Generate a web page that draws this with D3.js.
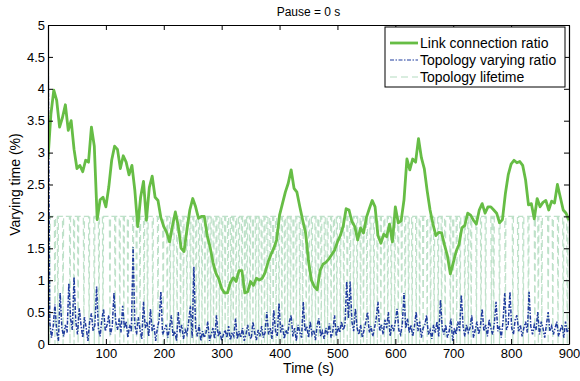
<!DOCTYPE html>
<html>
<head>
<meta charset="UTF-8">
<title>Pause = 0 s</title>
<style>
  * { margin: 0; padding: 0; }
  body { background: #fff; }
  text { font-family: "Liberation Sans", Arial, sans-serif; }
</style>
<script src="https://cdn.jsdelivr.net/npm/d3@7"></script>
</head>
<body>
<svg id="chart" width="580" height="381"></svg>
<script>
// link connection ratio, sampled every 5 s from 0 to 900
const linkStep = 5;
const linkRatio = [
  2.9, 3.6, 3.98, 3.82, 3.4, 3.55, 3.75, 3.35, 3.5, 3.05,
  2.75, 2.8, 2.7, 2.88, 2.85, 3.4, 3.1, 1.95, 2.26, 2.3,
  2.15, 2.46, 2.88, 3.1, 3.05, 2.75, 2.95, 2.85, 2.65, 2.8,
  2.41, 1.84, 2.3, 2.55, 1.94, 2.45, 2.63, 2.3, 2.25, 1.98,
  1.84, 1.75, 1.6, 1.85, 2.07, 1.85, 1.5, 1.45, 1.79, 2.1,
  2.28, 2.15, 1.97, 2.0, 2.0, 1.7, 1.52, 1.28, 1.11, 1.02,
  0.87, 0.8, 0.8, 0.96, 1.04, 0.98, 1.15, 1.15, 0.8, 0.82,
  0.98, 0.92, 1.03, 1.0, 1.03, 1.12, 1.28, 1.4, 1.5, 1.63,
  2.02, 2.2, 2.38, 2.52, 2.73, 2.44, 2.38, 2.15, 1.94, 1.74,
  1.3, 1.0, 0.9, 0.85, 1.15, 1.25, 1.28, 1.33, 1.4, 1.47,
  1.6, 1.7, 1.85, 2.12, 2.1, 1.92, 1.84, 1.63, 1.82, 1.74,
  1.98, 2.12, 2.25, 2.15, 1.7, 1.58, 1.72, 1.68, 1.88, 1.6,
  2.15, 1.9, 1.93, 2.26, 2.9, 2.73, 2.9, 2.85, 3.22, 2.92,
  2.75, 2.4, 2.1, 1.88, 1.7, 1.75, 1.74, 1.55, 1.38, 1.1,
  1.27, 1.45, 1.56, 1.82, 1.86, 2.05, 2.02, 1.94, 1.88, 2.1,
  2.2, 2.05, 2.15, 2.15, 2.1, 2.05, 1.9, 1.95, 2.35, 2.65,
  2.82, 2.88, 2.84, 2.86, 2.8, 2.57, 2.18, 2.2, 1.96, 2.28,
  2.15, 2.22, 2.25, 2.1, 2.24, 2.21, 2.5, 2.3, 2.1, 2.05,
  1.94
];

// topology varying ratio, sampled every 3 s from 0 to 900
const varyStep = 3;
const varyRatio = [
  5.0, 0.35, 0.10, 0.28, 0.62, 0.20, 0.05, 0.80, 0.25, 0.12,
  0.30, 0.18, 0.95, 0.40, 0.22, 1.05, 0.35, 0.15, 0.56, 0.30,
  0.10, 0.42, 0.25, 0.05, 0.35, 0.48, 0.20, 0.30, 0.90, 0.25,
  0.12, 0.38, 0.55, 0.20, 0.30, 0.45, 0.15, 0.28, 0.80, 0.35,
  0.22, 0.40, 0.18, 0.60, 0.25, 0.35, 0.10, 0.30, 0.20, 1.52,
  0.30, 0.15, 0.42, 0.22, 0.08, 0.66, 0.25, 0.35, 0.12, 0.55,
  0.20, 0.30, 0.05, 0.25, 0.38, 0.82, 0.15, 0.22, 0.30, 0.10,
  0.25, 0.45, 0.12, 0.20, 0.05, 0.50, 0.18, 0.30, 0.08, 0.22,
  0.15, 0.35, 0.60, 0.10, 1.21, 0.25, 0.12, 0.30, 0.05, 0.20,
  0.10, 0.18, 0.35, 0.05, 0.15, 0.25, 0.08, 0.45, 0.12, 0.20,
  0.05, 0.15, 0.22, 0.10, 0.28, 0.06, 0.18, 0.12, 0.40, 0.08,
  0.20, 0.10, 0.25, 0.05, 0.15, 0.30, 0.12, 0.08, 0.35, 0.18,
  0.06, 0.22, 0.12, 0.28, 0.10, 0.18, 0.50, 0.15, 0.25, 0.08,
  0.53, 0.20, 0.12, 0.64, 0.18, 0.30, 0.08, 0.22, 0.15, 0.35,
  0.45, 0.12, 0.25, 0.05, 0.30, 0.18, 0.10, 0.66, 0.20, 0.28,
  0.10, 0.35, 0.15, 0.22, 0.06, 0.30, 0.40, 0.12, 0.20, 0.08,
  0.25, 0.15, 0.32, 0.10, 0.20, 0.45, 0.12, 0.28, 0.18, 0.35,
  0.22, 0.30, 0.98, 0.40, 0.98, 0.35, 0.20, 0.55, 0.25, 0.15,
  0.30, 0.10, 0.22, 0.35, 0.50, 0.18, 0.28, 0.12, 0.25, 0.40,
  0.66, 0.20, 0.30, 0.15, 0.38, 0.25, 0.50, 0.12, 0.30, 0.20,
  0.35, 0.55, 0.22, 0.15, 0.30, 0.80, 0.25, 0.40, 0.18, 0.30,
  0.12, 0.28, 0.50, 0.20, 0.35, 0.10, 0.25, 0.30, 0.45, 0.15,
  0.22, 0.08, 0.30, 0.18, 0.35, 0.12, 0.69, 0.25, 0.15, 0.30,
  0.10, 0.20, 0.40, 0.05, 0.25, 0.15, 0.35, 0.20, 0.77, 0.28,
  0.12, 0.30, 0.18, 0.25, 0.45, 0.10, 0.22, 0.35, 0.15, 0.28,
  0.55, 0.20, 0.30, 0.12, 0.38, 0.25, 0.15, 0.32, 0.66, 0.20,
  0.28, 0.10, 0.35, 0.80, 0.22, 0.30, 0.82, 0.25, 0.15, 0.38,
  0.45, 0.20, 0.30, 0.12, 0.25, 0.35, 0.18, 0.82, 0.28, 0.15,
  0.30, 0.22, 0.50, 0.15, 0.35, 0.25, 0.10, 0.30, 0.50, 0.20,
  0.28, 0.15, 0.25, 0.35, 0.12, 0.22, 0.30, 0.10, 0.35, 0.18,
  0.25
];

// topology lifetime: level 2, dropping to 0 at these times (s)
const lifeLevel = 2;
const lifeDrops = [
  3, 12, 17, 26, 38, 45, 52, 62, 71, 80, 88, 95, 107, 116, 124, 131, 138, 147,
  153, 159, 166, 172, 181, 190, 199, 206, 211, 217, 223, 229, 234, 240, 246, 251,
  256, 261, 266, 271, 276, 281, 286, 291, 296, 301, 306, 311, 316, 320, 325, 330,
  335, 340, 344, 349, 354, 359, 364, 369, 374, 379, 384, 389, 394, 399, 404, 409,
  414, 419, 424, 429, 435, 440, 446, 451, 456, 462, 467, 472, 478, 483, 489, 494,
  499, 505, 511, 517, 522, 528, 534, 540, 545, 551, 557, 563, 569, 575, 581, 587,
  593, 599, 605, 611, 617, 623, 629, 636, 642, 648, 655, 661, 667, 674, 680, 686,
  695, 700, 706, 712, 720, 726, 731, 740, 748, 756, 766, 770, 780, 790, 803, 812,
  821, 830, 841, 847, 853, 864, 872, 881, 890, 897
];

const xTicks = [100, 200, 300, 400, 500, 600, 700, 800, 900];
const yTicks = [0, 0.5, 1, 1.5, 2, 2.5, 3, 3.5, 4, 4.5, 5];
const seriesNames = ["Link connection ratio", "Topology varying ratio", "Topology lifetime"];

const svg = d3.select("#chart");
const m = { left: 48, right: 569, top: 25, bottom: 344 };

const x = d3.scaleLinear().domain([0, 900]).range([m.left, m.right]);
const y = d3.scaleLinear().domain([0, 5]).range([m.bottom, m.top]);

svg.append("defs").append("clipPath").attr("id", "plotClip")
  .append("rect")
  .attr("x", m.left).attr("y", m.top)
  .attr("width", m.right - m.left).attr("height", m.bottom - m.top);

const plot = svg.append("g").attr("clip-path", "url(#plotClip)");

// lifetime series built from the drop times
const lifePts = [[0, lifeLevel]];
lifeDrops.forEach(d => {
  lifePts.push([d - 1, lifeLevel], [d, 0], [d + 1, lifeLevel]);
});
lifePts.push([900, lifeLevel]);

const line = d3.line().x(d => x(d[0])).y(d => y(d[1]));

plot.append("path")
  .datum(lifePts)
  .attr("d", line)
  .attr("fill", "none")
  .attr("stroke", "#b3dcbf")
  .attr("stroke-opacity", 0.85)
  .attr("stroke-width", 1.2)
  .attr("stroke-dasharray", "7,4");

plot.append("path")
  .datum(varyRatio.map((v, i) => [i * varyStep, v]))
  .attr("d", line)
  .attr("fill", "none")
  .attr("stroke", "#1f3c9e")
  .attr("stroke-width", 1.5)
  .attr("stroke-dasharray", "4,1.5,1.5,1.5");

plot.append("path")
  .datum(linkRatio.map((v, i) => [i * linkStep, v]))
  .attr("d", line)
  .attr("fill", "none")
  .attr("stroke", "#66bd45")
  .attr("stroke-width", 2.8)
  .attr("stroke-linejoin", "round");

// axes, MATLAB style: ticks inside on all four sides
const fmt = d3.format("");
const axB = svg.append("g").attr("transform", `translate(0,${m.bottom})`)
  .call(d3.axisBottom(x).tickValues(xTicks).tickFormat(fmt).tickSizeInner(-5).tickSizeOuter(0).tickPadding(5));
const axT = svg.append("g").attr("transform", `translate(0,${m.top})`)
  .call(d3.axisTop(x).tickValues(xTicks).tickFormat("").tickSizeInner(-5).tickSizeOuter(0));
const axL = svg.append("g").attr("transform", `translate(${m.left},0)`)
  .call(d3.axisLeft(y).tickValues(yTicks).tickFormat(fmt).tickSizeInner(-5).tickSizeOuter(0).tickPadding(3));
const axR = svg.append("g").attr("transform", `translate(${m.right},0)`)
  .call(d3.axisRight(y).tickValues(yTicks).tickFormat("").tickSizeInner(-5).tickSizeOuter(0));

[axB, axT, axL, axR].forEach(a => {
  a.selectAll("text").attr("font-size", 13).attr("fill", "#000")
    .attr("font-family", "Liberation Sans, Arial, sans-serif");
  a.select(".domain").attr("stroke", "#000").attr("stroke-width", 1.2);
  a.selectAll(".tick line").attr("stroke", "#000");
});

// labels
svg.append("text")
  .attr("x", (m.left + m.right) / 2).attr("y", 16)
  .attr("text-anchor", "middle").attr("font-size", 12)
  .text("Pause = 0 s");

svg.append("text")
  .attr("x", (m.left + m.right) / 2).attr("y", 373)
  .attr("text-anchor", "middle").attr("font-size", 14)
  .text("Time (s)");

svg.append("text")
  .attr("transform", `translate(20,${(m.top + m.bottom) / 2}) rotate(-90)`)
  .attr("text-anchor", "middle").attr("font-size", 14)
  .text("Varying time (%)");

// legend
const lg = svg.append("g").attr("transform", "translate(385,27)");
lg.append("rect")
  .attr("width", 180).attr("height", 60)
  .attr("fill", "#fff").attr("stroke", "#000").attr("stroke-width", 1);

const legendStyles = [
  { stroke: "#66bd45", width: 2.8, dash: null },
  { stroke: "#1f3c9e", width: 1.1, dash: "4,1.5,1.5,1.5" },
  { stroke: "#b3dcbf", width: 1.2, dash: "7,4" }
];

seriesNames.forEach((name, i) => {
  const row = lg.append("g").attr("transform", `translate(0,${16 + i * 17})`);
  row.append("line")
    .attr("x1", 5).attr("x2", 33).attr("y1", 0).attr("y2", 0)
    .attr("stroke", legendStyles[i].stroke)
    .attr("stroke-width", legendStyles[i].width)
    .attr("stroke-dasharray", legendStyles[i].dash);
  row.append("text")
    .attr("x", 35).attr("y", 5)
    .attr("font-size", 14)
    .text(name);
});
</script>
</body>
</html>
